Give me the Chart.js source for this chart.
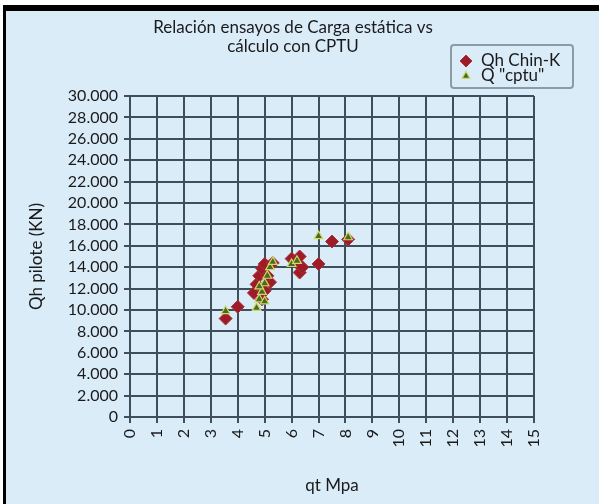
<!DOCTYPE html>
<html>
<head>
<meta charset="utf-8">
<script src="https://cdn.jsdelivr.net/npm/chart.js@4.4.1/dist/chart.umd.min.js"></script>
<style>
  html, body { margin: 0; padding: 0; background: #fff; }
  #wrap { position: relative; width: 600px; height: 504px; overflow: hidden; }
  #frame { position: absolute; left: 3px; top: 5px; right: 1px; bottom: 0;
           border-top: 6px solid #000; border-left: 3px solid #000; background: #dbecf9; }
  canvas { position: absolute; left: 0; top: 0; }
</style>
</head>
<body>
<div id="wrap">
  <div id="frame"></div>
  <canvas id="chart" width="600" height="504"></canvas>
</div>
<script>
const titleLines = ["Relación ensayos de Carga estática vs", "cálculo con CPTU"];
const seriesNames = ["Qh Chin-K", 'Q "cptu"'];

// Qh Chin-K  (qt Mpa, Qh KN)
const chinX = [3.55, 4.0, 4.6, 4.7, 4.8, 4.9, 5.0, 5.3, 5.2, 4.9, 5.0, 5.1, 6.0, 6.2, 6.3, 6.3, 6.4, 7.0, 7.5, 8.1];
const chinY = [9200, 10300, 11600, 12400, 13200, 13900, 14300, 14400, 12600, 11000, 11800, 13200, 14800, 14400, 15000, 13500, 14000, 14300, 16400, 16600];

// Q "cptu"
const cptuX = [3.55, 4.7, 4.8, 4.9, 5.0, 5.1, 5.2, 5.3, 6.0, 6.2, 7.0, 8.1, 4.8, 5.0];
const cptuY = [9900, 10200, 11000, 11700, 12500, 13200, 14000, 14500, 14300, 14600, 16900, 16800, 12200, 10800];

const xMax = 15;
const yMax = 30000;
const yStep = 2000;

const FONT = 'Lato, "Open Sans", sans-serif';
const gridColor = '#3e4e5a';

function toPoints(xs, ys) {
    return xs.map((x, i) => ({ x: x, y: ys[i] }));
}

// title + legend drawn at fixed places
const overlay = {
    id: 'overlay',
    afterDraw(chart) {
        const ctx = chart.ctx;
        ctx.save();
        ctx.fillStyle = '#1a1a1a';
        ctx.font = '17px ' + FONT;
        ctx.textAlign = 'center';
        ctx.textBaseline = 'middle';
        ctx.fillText(titleLines[0], 293, 28);
        ctx.fillText(titleLines[1], 293, 47);

        // legend box
        ctx.strokeStyle = '#8c9ba6';
        ctx.lineWidth = 2;
        ctx.beginPath();
        ctx.roundRect(451, 45, 122, 43, 3);
        ctx.stroke();

        const ds = chart.data.datasets;
        const rows = [61, 76];
        ds.forEach((d, i) => {
            ctx.fillStyle = d.backgroundColor;
            ctx.strokeStyle = d.borderColor;
            ctx.lineWidth = d.borderWidth;
            Chart.helpers.drawPoint(ctx, { pointStyle: d.pointStyle, radius: d.pointRadius - 0.5, borderWidth: d.borderWidth, rotation: 0 }, 466, rows[i]);
            ctx.fillStyle = '#1a1a1a';
            ctx.textAlign = 'left';
            ctx.font = '17px ' + FONT;
            ctx.fillText(d.label, 481, rows[i]);
        });
        ctx.restore();
    }
};

new Chart(document.getElementById('chart'), {
    type: 'scatter',
    data: {
        datasets: [
            {
                label: seriesNames[0],
                data: toPoints(chinX, chinY),
                pointStyle: 'rectRot',
                pointRadius: 6.5,
                backgroundColor: '#9e1b28',
                borderColor: '#a8323a',
                borderWidth: 1,
                order: 2
            },
            {
                label: seriesNames[1],
                data: toPoints(cptuX, cptuY),
                pointStyle: 'triangle',
                pointRadius: 5,
                backgroundColor: '#4d6a22',
                borderColor: '#cfd968',
                borderWidth: 1.2,
                order: 1
            }
        ]
    },
    options: {
        responsive: false,
        animation: false,
        layout: { padding: { left: 0, top: 96, right: 66, bottom: 0 } },
        plugins: {
            legend: { display: false },
            title: { display: false },
            tooltip: { enabled: false }
        },
        scales: {
            x: {
                type: 'linear',
                min: 0,
                max: xMax,
                afterFit(scale) { scale.height = 87; },
                ticks: {
                    stepSize: 1,
                    autoSkip: false,
                    maxRotation: 90,
                    minRotation: 90,
                    padding: 6,
                    color: '#1a1a1a',
                    font: { family: FONT, size: 16 }
                },
                grid: { color: gridColor, lineWidth: 2, tickLength: 6 },
                border: { color: gridColor, width: 2 },
                title: {
                    display: true,
                    text: 'qt Mpa',
                    color: '#1a1a1a',
                    font: { family: FONT, size: 17 },
                    padding: { top: 0, bottom: 8 }
                }
            },
            y: {
                type: 'linear',
                min: 0,
                max: yMax,
                afterFit(scale) { scale.width = 130; },
                ticks: {
                    stepSize: yStep,
                    autoSkip: false,
                    padding: 6,
                    color: '#1a1a1a',
                    font: { family: FONT, size: 16 },
                    callback: v => v.toLocaleString('de-DE')
                },
                grid: { color: gridColor, lineWidth: 2, tickLength: 6 },
                border: { color: gridColor, width: 2 },
                title: {
                    display: true,
                    text: 'Qh pilote (KN)',
                    color: '#1a1a1a',
                    font: { family: FONT, size: 17 },
                    padding: { top: 26, bottom: 0 }
                }
            }
        }
    },
    plugins: [overlay]
});
</script>
</body>
</html>
